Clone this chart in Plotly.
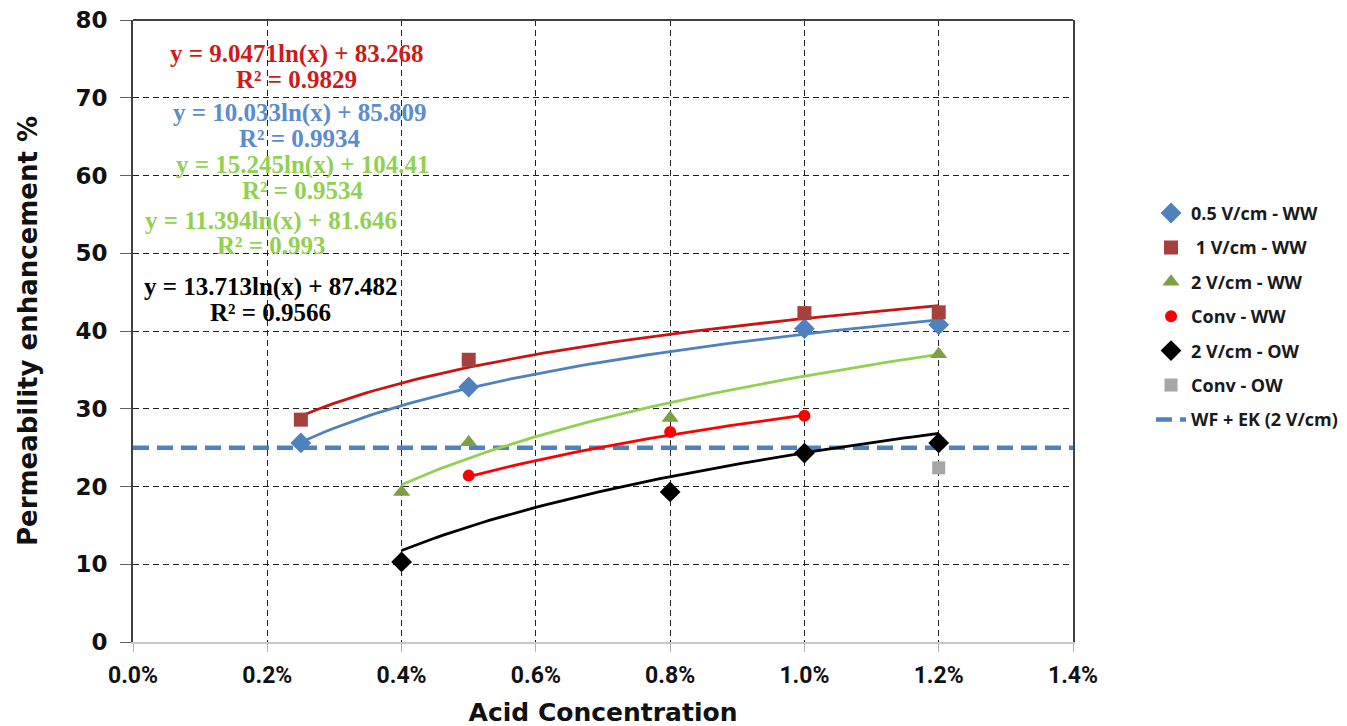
import numpy as np
import plotly.graph_objects as go

# ---------------- data (acid concentration in %) ----------------
x_05ww = [0.25, 0.5, 1.0, 1.2]
y_05ww = [25.6, 32.8, 40.3, 40.8]

x_1ww = [0.25, 0.5, 1.0, 1.2]
y_1ww = [28.6, 36.3, 42.3, 42.4]

x_2ww = [0.4, 0.5, 0.8, 1.2]
y_2ww = [19.3, 25.7, 28.8, 37.0]

x_convww = [0.5, 0.8, 1.0]
y_convww = [21.4, 27.0, 29.1]

x_2ow = [0.4, 0.8, 1.0, 1.2]
y_2ow = [10.3, 19.3, 24.3, 25.6]

x_convow = [1.2]
y_convow = [22.4]

wf_ek_x = [0.0, 1.4]
wf_ek_y = [25.0, 25.0]

# logarithmic trendline coefficients (y = a ln(x) + b, x as fraction)
trend_names = ["1 V/cm - WW", "0.5 V/cm - WW", "2 V/cm - WW", "Conv - WW", "2 V/cm - OW"]
trend_a = [9.0471, 10.033, 15.245, 11.394, 13.713]
trend_b = [83.268, 85.809, 104.41, 81.646, 87.482]
trend_r2 = ["0.9829", "0.9934", "0.9534", "0.993", "0.9566"]

x_ticks = [0.0, 0.2, 0.4, 0.6, 0.8, 1.0, 1.2, 1.4]
y_ticks = [0, 10, 20, 30, 40, 50, 60, 70, 80]

# ---------------- styles ----------------
trend_colors = ["#C81414", "#4F81BD", "#92D050", "#FF0000", "#000000"]
text_colors = ["#D01A1A", "#5B8BD0", "#92D050", "#92D050", "#000000"]
trend_ranges = [(x_1ww[0], x_1ww[-1]), (x_05ww[0], x_05ww[-1]), (x_2ww[0], x_2ww[-1]),
                (x_convww[0], x_convww[-1]), (x_2ow[0], x_2ow[-1])]

fig = go.Figure()

# reference dashed line
fig.add_trace(go.Scatter(x=wf_ek_x, y=wf_ek_y, mode="lines", name="WF + EK (2 V/cm)",
                         line=dict(color="#4F81BD", width=4.5, dash="16px,8px"), legendrank=7,
                         legendgroup="g7"))

# trendlines
for a, b, c, (x0, x1) in zip(trend_a, trend_b, trend_colors, trend_ranges):
    xs = np.linspace(x0, x1, 80)
    ys = a * np.log(xs / 100.0) + b
    fig.add_trace(go.Scatter(x=xs, y=ys, mode="lines", line=dict(color=c, width=2.8),
                             showlegend=False, hoverinfo="skip"))

series = [
    ("0.5 V/cm - WW", x_05ww, y_05ww, "diamond", "#4F81BD", 16),
    (" 1 V/cm - WW", x_1ww, y_1ww, "square", "#A5403C", 14),
    ("2 V/cm - WW", x_2ww, y_2ww, "triangle-up", "#7F9F45", 15),
    ("Conv - WW", x_convww, y_convww, "circle", "#FF0000", 12),
    ("2 V/cm - OW", x_2ow, y_2ow, "diamond", "#000000", 16),
    ("Conv - OW", x_convow, y_convow, "square", "#A6A6A6", 13),
]
for i, (name, xs, ys, sym, col, sz) in enumerate(series):
    fig.add_trace(go.Scatter(x=xs, y=ys, mode="markers", name=name,
                             marker=dict(symbol=sym, color=col, size=sz),
                             legendrank=i + 1, legendgroup=f"g{i}"))

# equation annotations (centre x, y of equation line, y of R² line)
ann_pos = [(0.244, 75.6, 72.3), (0.248, 68.0, 64.8), (0.253, 61.3, 58.1),
           (0.206, 54.2, 51.0), (0.205, 45.7, 42.4)]
for a, b, r2, col, (ax, ay1, ay2) in zip(trend_a, trend_b, trend_r2, text_colors, ann_pos):
    fig.add_annotation(x=ax, y=ay1, xref="x", yref="y", showarrow=False,
                       text=f"y = {a:g}ln(x) + {b:g}",
                       font=dict(family="Liberation Serif", size=25, color=col, weight="bold"))
    fig.add_annotation(x=ax, y=ay2, xref="x", yref="y", showarrow=False,
                       text=f"R² = {r2}",
                       font=dict(family="Liberation Serif", size=25, color=col, weight="bold"))

# top border of plot area
fig.add_shape(type="line", xref="paper", yref="paper", x0=0, x1=1, y0=1, y1=1,
              line=dict(color="#404040", width=2))

fig.update_layout(
    width=1347, height=726,
    margin=dict(l=125, r=280, t=12, b=92),
    paper_bgcolor="white", plot_bgcolor="white",
    showlegend=True,
    legend=dict(x=1.083, y=0.719, xanchor="left", yanchor="top",
                font=dict(family="Open Sans", size=18, color="#1a1a1a", weight="bold"),
                tracegroupgap=8, itemwidth=30, bgcolor="rgba(0,0,0,0)"),
    xaxis=dict(range=[0, 1.4], tickvals=x_ticks, ticktext=[f"{v:.1f}%" for v in x_ticks],
               automargin=False, ticklabeloverflow="allow",
               showgrid=True, gridcolor="#222222", griddash="6px,4px", gridwidth=1.3,
               showline=True, linecolor="#c8c8c8", linewidth=2,
               ticks="outside", ticklen=8, tickcolor="#b0b0b0", ticklabelstandoff=3,
               tickfont=dict(family="Roboto", size=23, color="#111111", weight="bold"),
               title=dict(text="Acid Concentration", standoff=16,
                          font=dict(family="DejaVu Sans", size=25, color="#111111", weight="bold")),
               zeroline=False),
    yaxis=dict(range=[0, 80], tickvals=y_ticks, automargin=False, ticklabeloverflow="allow",
               showgrid=True, gridcolor="#222222", griddash="6px,4px", gridwidth=1.3,
               showline=True, linecolor="#404040", linewidth=2, mirror=True,
               ticks="outside", ticklen=11, tickcolor="#606060", ticklabelstandoff=8,
               tickfont=dict(family="DejaVu Sans", size=23, color="#111111", weight="bold"),
               title=dict(text="Permeability enhancement %", standoff=30,
                          font=dict(family="DejaVu Sans", size=26, color="#111111", weight="bold")),
               zeroline=False),
)

fig.write_html("out.html")
